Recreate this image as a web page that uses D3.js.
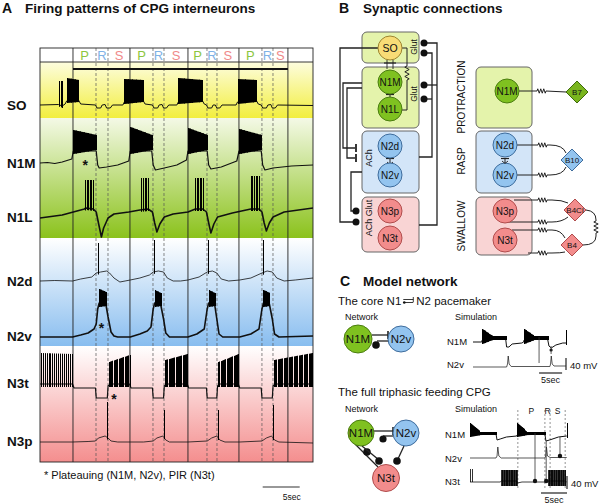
<!DOCTYPE html>
<html><head><meta charset="utf-8">
<script src="https://cdn.jsdelivr.net/npm/d3@7/dist/d3.min.js"></script>
<style>
body{margin:0;background:#fff;}
svg{display:block;}
text{font-family:"Liberation Sans",Arial,Helvetica,sans-serif;fill:#111;}
</style></head>
<body>
<svg id="fig" width="600" height="504" xmlns="http://www.w3.org/2000/svg"></svg>
<script>
// ======================= DATA =======================
const rowLabels = ["SO","N1M","N1L","N2d","N2v","N3t","N3p"];
const phaseLetters = ["P","R","S"];
const cycleBounds = [4.46, 12.16, 20.0, 26.89, 33.51];   // s, solid lines (P onset)
const rStarts = [7.57, 15.27, 22.57, 30.0];              // s, dashed (R onset)
const rEnds = [9.19, 16.76, 23.92, 31.49];               // s, dashed (S onset)
const recordLength = 36.9;                               // s
const scaleBarSec = 5;
const asteriskTimes = [6.1, 8.3, 10.0];                  // N1M, N2v, N3t

// traces: [time (s), potential (relative mV)]
const soTrace = [[0,0],[2.5,0.5],[3.0,-1],[3.4,1],[3.6,4],[5.2,5],[5.5,1],[7.5,0],[7.7,-3],[8.2,-3],[8.4,0],[8.8,0.5],[9.0,-3],[9.5,-3],[9.8,0],[11.2,0],[11.4,3],[13.9,5],[14.2,1],[15.2,0],[15.4,-3],[15.9,-3],[16.1,0],[16.5,0.5],[16.7,-3],[17.1,-3],[17.4,0],[18.5,0],[18.7,3],[21.9,5],[22.2,1],[22.5,0],[22.7,-3],[23.2,-3],[23.4,0],[23.7,0],[23.9,-3],[24.3,-3],[24.6,0],[26.5,0],[26.7,3],[29.2,5],[29.5,1],[29.9,0],[30.1,-3],[30.6,-3],[30.8,0],[31.2,0.5],[31.4,-3],[31.8,-3],[32.1,0],[36.9,-0.5]];
// bursts: [t0, t1, spikes, top0, top1, bottom0, bottom1]
const soBursts = [[2.6,3.0,3,24],[3.6,5.2,16,27,25],[11.4,13.9,24,26,25],[18.7,21.9,28,27,25],[26.7,29.2,22,26,25]];

const n1mTrace = [[0,0],[1,0.5],[2,-0.5],[3,1],[4.3,4],[4.5,12],[7.6,12],[7.8,-2],[8.0,-5],[9,-4],[10.5,-2],[12.0,2],[12.2,12],[15.1,12],[15.3,-2],[15.6,-7],[16.8,-5],[18.5,-2],[19.8,3],[20.0,12],[22.6,12],[22.8,-2],[23.1,-6],[24.5,-4],[26.6,2],[26.9,12],[29.9,12],[30.1,-2],[30.4,-7],[31.5,-5],[34,-3],[36.9,-2]];
const n1mBursts = [[4.5,7.6,30,33,28,9,13],[12.2,15.1,28,36,28,9,13],[20.0,22.6,26,35,28,9,13],[26.9,29.9,30,34,28,9,13]];

const n1lTrace = [[0,0],[1,1],[2,2],[3,3],[4.5,6],[6,9],[6.2,10],[7.2,9],[7.6,6],[7.9,-5],[8.3,-19],[8.6,-10],[9.2,0],[10,4],[12,6],[13.5,8],[14.6,9],[15.2,6],[15.5,-5],[15.8,-14],[16.2,-6],[16.8,1],[18,4],[20,6],[21,9],[22,9],[22.5,6],[22.8,-5],[23.1,-15],[23.5,-6],[24,1],[26,5],[28.5,9],[29.6,9],[30,6],[30.3,-5],[30.6,-13],[31,-5],[31.5,1],[33,6],[36.9,10]];
const n1lBursts = [[6.1,7.1,6,38],[13.7,14.6,5,40],[21.0,22.0,6,40],[28.5,29.6,6,42]];

const n2dTrace = [[0,0],[2,0.5],[4.4,0],[5.5,2],[7,4],[7.6,8],[8.2,9],[9,10],[9.4,8],[10,3],[10.8,-1],[11.5,0],[12.2,1],[13.5,3],[14.8,6],[15.3,9],[16,10],[16.7,9],[17.2,3],[18,0],[19,0],[20,1],[21.5,4],[22.6,9],[23.3,10],[23.9,8],[24.5,2],[25.5,0],[27,1],[28.5,3],[30,8],[30.7,10],[31.4,9],[32,3],[33,0],[34.5,1],[36.9,3]];
const n2dBursts = [[7.9,7.9,1,38],[15.4,15.4,1,41],[22.7,22.7,1,41],[30.1,30.1,1,41]];

const n2vTrace = [[0,0],[4.4,0],[5.5,2],[6.5,4],[7.3,8],[7.6,13],[7.8,28],[8.0,34],[8.9,33],[9.2,20],[9.6,5],[10.0,1],[10.5,0],[12.2,0],[13.5,3],[14.5,6],[15.0,10],[15.3,28],[15.5,34],[16.3,33],[16.7,18],[17.0,4],[17.5,0],[20.0,0],[21.2,3],[22.2,8],[22.6,28],[22.8,34],[23.6,33],[23.9,18],[24.2,3],[24.7,0],[27,0],[28.5,3],[29.6,8],[30,28],[30.2,34],[31.0,33],[31.4,18],[31.7,3],[32.3,0],[36.9,1]];
const n2vBursts = [[8.0,8.9,10,48,45,30,31],[15.5,16.3,9,47,44,30,31],[22.8,23.6,9,47,44,30,31],[30.2,31.0,9,47,44,30,31]];

const n3tTrace = [[0,0],[4.4,0],[4.6,-4],[7.5,-4],[7.6,-14],[9.1,-14],[9.2,-2],[9.5,0],[12.1,0],[12.3,-4],[15.2,-4],[15.3,-14],[16.7,-14],[16.8,-2],[17.1,0],[19.9,0],[20.1,-4],[22.5,-4],[22.6,-14],[23.9,-14],[24.0,-2],[24.3,0],[26.8,0],[27.0,-4],[29.9,-4],[30.0,-14],[31.4,-14],[31.5,-2],[31.8,0],[36.9,0]];
const n3tBursts = [[0.1,4.3,17,31,30,-3,-3],[9.3,12.1,18,22,29,-3,-3],[16.9,19.9,20,24,30,-3,-3],[24.1,26.8,18,22,30,-3,-3],[31.6,36.8,32,24,31,-3,-3]];

const n3pTrace = [[0,0],[4.4,0],[6.5,0.5],[7.5,1],[7.9,4],[8.8,6],[9.2,4],[9.6,1],[10.5,0],[12.2,0],[14,0],[15.3,1],[15.8,4],[16.6,6],[17.0,2],[17.5,0],[20,0],[22.6,1],[23.2,4],[23.9,6],[24.3,2],[25,0],[27,0],[30,1],[30.6,4],[31.3,6],[31.7,2],[32.3,0],[36.9,-1]];
const n3pBursts = [[9.1,9.1,1,40],[16.7,16.7,1,32],[24.1,24.1,1,32],[31.5,31.5,1,37]];

// Panel C simulations
const sim1Labels = ["N1M","N2v"];
const sim1Length = 20.2;
const sim1N1M = [[0,0],[1.9,0],[2.0,2],[7.1,3],[7.3,-5],[7.8,-5],[8.5,-2],[10.6,-1],[11.0,0],[11.1,2],[16.2,3],[16.5,-4],[17.0,-6],[18,-3],[19.5,-1],[20.2,-1]];
const sim1N1MBursts = [[2.0,4.2,14,13,6,-2,2],[4.2,7.1,16,6,6,2,2],[11.1,13.3,14,13,6,-2,2],[13.3,16.2,16,6,6,2,2],[20.2,20.2,1,12]];
const sim1N2v = [[0,0],[7.3,0],[7.5,3],[7.65,11],[7.85,3],[8.3,0.5],[16.7,0.5],[16.85,3],[17.0,11],[17.2,3],[17.6,1],[20.2,1]];

const sim2Labels = ["N1M","N2v","N3t"];
const sim2Length = 18.65;
const sim2Phases = [9.2, 14.4, 15.4, 18.3];
const sim2N1M = [[0,0],[5.0,1],[5.2,-5],[5.8,-4],[7,-2],[9.0,-1],[9.05,0],[14.4,1],[14.6,-6],[15.3,-5],[17,-2],[18.6,-1]];
const sim2N1MBursts = [[0.05,2.0,12,12,3,-2,0],[2.0,5.0,18,3,3,0,0],[9.05,11.0,12,12,3,-2,0],[11.0,14.4,20,3,3,0,0],[18.6,18.6,1,12]];
const sim2N2v = [[0,0],[5.0,0],[5.2,2],[5.35,11],[5.55,2],[6,0],[14.4,0],[14.55,2],[14.7,11],[14.9,2],[15.4,0.5],[18.6,0.5]];
const sim2N3t = [[0,0],[5.8,0],[6.0,1],[9.0,1],[9.1,-1],[10,0],[14.9,0],[15.0,1],[18.3,1],[18.6,0]];
const sim2N3tBursts = [[0,0.3,2,13,13,0,0],[6.0,9.0,26,12,12,-4,-4],[15.0,18.3,28,12,12,-4,-4]];

// ======================= STYLE =======================
const phaseColors = ["#8cc63e","#7fb2e6","#f08a8a"];
const C = {
  greenBox:"#e4f3ab", blueBox:"#d3e5f8", redBox:"#f9d4d4",
  green:"#7fc120", blue:"#93c4ef", red:"#f28c8c", yellow:"#f8dc76",
  greenS:"#4a7d10", blueS:"#3e6c9c", redS:"#b04c4c", yellowS:"#9c8430"
};

const svg = d3.select("#fig");
const defs = svg.append("defs");
function grad(id, c0, c1){
  const g = defs.append("linearGradient").attr("id",id).attr("x1",0).attr("y1",0).attr("x2",0).attr("y2",1);
  g.append("stop").attr("offset",0).attr("stop-color",c0);
  g.append("stop").attr("offset",1).attr("stop-color",c1);
}
grad("gY","#fdfdde","#f2ee3e");
grad("gG","#f4f9e6","#8bc21c");
grad("gB","#ffffff","#88bdef");
grad("gR","#ffffff","#f48e8e");

function valAt(pts, t){
  const i = d3.bisector(d=>d[0]).right(pts, t);
  if(i<=0) return pts[0][1];
  if(i>=pts.length) return pts[pts.length-1][1];
  const a = pts[i-1], b = pts[i];
  const f = (t-a[0])/((b[0]-a[0])||1);
  return a[1]+(b[1]-a[1])*f;
}
function drawTrace(g, x, y, pts, bursts, sw, spw){
  g.append("path").attr("d", d3.line().x(d=>x(d[0])).y(d=>y(d[1]))(pts))
   .attr("fill","none").attr("stroke","#111").attr("stroke-width",sw).attr("stroke-linejoin","round");
  const spikes = [];
  (bursts||[]).forEach(b=>{
    const [t0,t1,n,top0,top1=top0,bot0=null,bot1=bot0] = b;
    for(let i=0;i<n;i++){
      const f = n>1 ? i/(n-1) : 0;
      const t = t0+(t1-t0)*f;
      const top = top0+(top1-top0)*f;
      const bot = bot0==null ? valAt(pts,t)-2 : bot0+(bot1-bot0)*f;
      spikes.push([t,bot,top]);
    }
  });
  const px = d=>Math.round(x(d[0]))+0.5;
  g.selectAll(null).data(spikes).join("line")
   .attr("x1",px).attr("x2",px)
   .attr("y1",d=>y(d[1])).attr("y2",d=>y(d[2]))
   .attr("stroke","#000").attr("stroke-width",spw||1);
}
function txt(g, x, y, s, size, opt={}){
  const t = g.append("text").attr("x",x).attr("y",y).attr("font-size",size).text(s);
  if(opt.bold) t.attr("font-weight","bold");
  if(opt.anchor) t.attr("text-anchor",opt.anchor);
  if(opt.fill) t.style("fill",opt.fill);
  return t;
}
function vtxt(g, x, y, s, size){
  return g.append("text").attr("transform",`translate(${x},${y}) rotate(-90)`)
    .attr("text-anchor","middle").attr("dy","0.35em").attr("font-size",size).text(s);
}

// ======================= PANEL A =======================
const gA = svg.append("g");
txt(gA, 2, 13, "A", 14, {bold:true});
txt(gA, 25, 13, "Firing patterns of CPG interneurons", 13.5, {bold:true});
const A = {left:40, right:313, top:48, head:62, bottom:462};
const xA = d3.scaleLinear().domain([0, recordLength]).range([A.left, A.right]);
const bands = [[62,118,"url(#gY)"],[118,238,"url(#gG)"],[238,346,"url(#gB)"],[346,462,"url(#gR)"]];
gA.selectAll(null).data(bands).join("rect")
  .attr("x",A.left).attr("width",A.right-A.left).attr("y",d=>d[0]).attr("height",d=>d[1]-d[0]).attr("fill",d=>d[2]);

gA.selectAll(null).data(rStarts.concat(rEnds)).join("line")
  .attr("x1",d=>xA(d)).attr("x2",d=>xA(d)).attr("y1",A.top).attr("y2",A.bottom)
  .attr("stroke","#555").attr("stroke-width",0.7).attr("stroke-dasharray","3,2");
gA.selectAll(null).data(cycleBounds).join("line")
  .attr("x1",d=>xA(d)).attr("x2",d=>xA(d)).attr("y1",A.top).attr("y2",A.bottom)
  .attr("stroke","#222").attr("stroke-width",0.9);
gA.append("line").attr("x1",A.left).attr("x2",A.right).attr("y1",A.head).attr("y2",A.head).attr("stroke","#222").attr("stroke-width",0.9);
gA.append("rect").attr("x",A.left).attr("y",A.top).attr("width",A.right-A.left).attr("height",A.bottom-A.top)
  .attr("fill","none").attr("stroke","#222").attr("stroke-width",0.9);
gA.append("line").attr("x1",xA(cycleBounds[0])).attr("x2",xA(cycleBounds[cycleBounds.length-1])).attr("y1",69).attr("y2",69)
  .attr("stroke","#111").attr("stroke-width",2);
rStarts.forEach((rs,i)=>{
  const mids = [(cycleBounds[i]+rs)/2,(rs+rEnds[i])/2,(rEnds[i]+cycleBounds[i+1])/2];
  mids.forEach((m,j)=>txt(gA, xA(m), 60, phaseLetters[j], 13, {anchor:"middle", fill:phaseColors[j]}));
});

const clip = defs.append("clipPath").attr("id","clipA");
clip.append("rect").attr("x",A.left).attr("y",A.head).attr("width",A.right-A.left).attr("height",A.bottom-A.head);
const gT = gA.append("g").attr("clip-path","url(#clipA)");
const traceSpecs = [
  [soTrace, soBursts, 105, 1.0, 110],
  [n1mTrace, n1mBursts, 163, 1.2, 168],
  [n1lTrace, n1lBursts, 218, 1.6, 222],
  [n2dTrace, n2dBursts, 281, 0.8, 286],
  [n2vTrace, n2vBursts, 337, 1.6, 341],
  [n3tTrace, n3tBursts, 384, 1.2, 388],
  [n3pTrace, n3pBursts, 442, 0.8, 446]
];
traceSpecs.forEach((s,i)=>{
  const y = d3.scaleLinear().domain([0,10]).range([s[2], s[2]-10]);
  drawTrace(gT, xA, y, s[0], s[1], s[3], 1);
  txt(gA, 7, s[4], rowLabels[i], 13.5, {bold:true});
});
[[0,170],[1,333],[2,404]].forEach(([k,yy])=>txt(gA, xA(asteriskTimes[k]), yy, "*", 14, {anchor:"middle", bold:true}));
txt(gA, 44, 479, "* Plateauing (N1M, N2v), PIR (N3t)", 11);
const sbEnd = 35.1;
gA.append("line").attr("x1",xA(sbEnd-scaleBarSec)).attr("x2",xA(sbEnd)).attr("y1",487).attr("y2",487).attr("stroke","#333").attr("stroke-width",1.2);
txt(gA, xA(sbEnd)+1, 500, "5sec", 8.5, {anchor:"end"});

// ======================= PANEL B =======================
const gB = svg.append("g");
txt(gB, 339, 13, "B", 14, {bold:true});
txt(gB, 363, 13, "Synaptic connections", 13.5, {bold:true});

function box(g,x,y,w,h,fill){ g.append("rect").attr("x",x).attr("y",y).attr("width",w).attr("height",h).attr("rx",5).attr("fill",fill).attr("stroke","#666").attr("stroke-width",1); }
function node(g,x,y,r,fill,stroke,label,fs){
  g.append("circle").attr("cx",x).attr("cy",y).attr("r",r).attr("fill",fill).attr("stroke",stroke).attr("stroke-width",1);
  g.append("text").attr("x",x).attr("y",y).attr("dy","0.36em").attr("text-anchor","middle").attr("font-size",fs).text(label);
}
function dot(g,x,y,r){ g.append("circle").attr("cx",x).attr("cy",y).attr("r",r||3.5).attr("fill","#111"); }
function path(g,d,sw,col){ return g.append("path").attr("d",d).attr("fill","none").attr("stroke",col||"#222").attr("stroke-width",sw||1.3); }
function zigH(x0,y,len,amp,k){ let s=`L${x0},${y}`; const st=len/(2*k); for(let i=0;i<2*k;i++){ s+=` L${x0+st*(i+0.5)},${y+(i%2?amp:-amp)}`;} return s+` L${x0+len},${y}`; }
function zigV(x,y0,len,amp,k){ let s=`L${x},${y0}`; const st=len/(2*k); for(let i=0;i<2*k;i++){ s+=` L${x+(i%2?amp:-amp)},${y0+st*(i+0.5)}`;} return s+` L${x},${y0+len}`; }
function diamond(g,x,y,h,fill,stroke,label){
  g.append("path").attr("d",`M${x},${y-h} L${x+h},${y} L${x},${y+h} L${x-h},${y} Z`).attr("fill",fill).attr("stroke",stroke).attr("stroke-width",1);
  g.append("text").attr("x",x).attr("y",y).attr("dy","0.36em").attr("text-anchor","middle").attr("font-size",8).text(label);
}

box(gB,362,32,57,31,C.greenBox);
box(gB,362,67,57,61,C.greenBox);
box(gB,362,131,57,62,C.blueBox);
box(gB,362,197,57,55,C.redBox);
path(gB,"M378,48 H340 V222 H353");
path(gB,"M362,83 H343 V148 H355");
path(gB,"M362,88 H347 V158 H355");
path(gB,"M362,172 H351 V211 H353");
path(gB,"M356,144 V152",1.8); path(gB,"M356,154 V162",1.8);
dot(gB,356,222); dot(gB,356,211);
path(gB,"M419,225 H437 V43 H424"); path(gB,"M437,85 H424");
path(gB,"M419,157 H432 V53 H424"); path(gB,"M432,99 H424");
dot(gB,424,43); dot(gB,424,53); dot(gB,424,85); dot(gB,424,99);
path(gB,"M402,48 H407 "+zigV(407,66,14,2.2,3)+" V110 H402",1);
path(gB,"M387,60 V69 M393,60 V69",0.9); path(gB,"M384,63 H396",1.2);
path(gB,"M390,94 V98",1); path(gB,"M386,94.5 H394",1.2);
path(gB,"M390,158 V164",1); path(gB,"M386,158.5 H394",1.2); path(gB,"M387,162 L390,164.5 L393,162",0.9);
node(gB,390,48,12,C.yellow,C.yellowS,"SO",10.5);
node(gB,390,82,12,C.green,C.greenS,"N1M",10);
node(gB,390,109,12,C.green,C.greenS,"N1L",10);
node(gB,390,146,12,C.blue,C.blueS,"N2d",10);
node(gB,390,175,12,C.blue,C.blueS,"N2v",10);
node(gB,390,211,12,C.red,C.redS,"N3p",10);
node(gB,390,238,12,C.red,C.redS,"N3t",10);
vtxt(gB,414,47,"Glut",8.5);
vtxt(gB,414,94,"Glut",8.5);
vtxt(gB,369,158,"ACh",9);
vtxt(gB,369,218,"ACh Glut",9);

box(gB,476,67,56,61,C.greenBox);
box(gB,476,131,56,62,C.blueBox);
box(gB,476,197,56,58,C.redBox);
vtxt(gB,461,97,"PROTRACTION",10);
vtxt(gB,461,161,"RASP",10);
vtxt(gB,461,226,"SWALLOW",10);
path(gB,"M519,91 "+zigH(537,91,9,2.2,3)+" L566,92",1);
path(gB,"M517,145 "+zigH(538,145,9,2.2,3)+" L550,145 Q563,145 566,153",1);
path(gB,"M517,175 "+zigH(538,175,9,2.2,3)+" L550,175 Q563,175 566,167",1);
path(gB,"M514,200 "+zigH(538,200,9,2.2,3)+" L552,200 Q562,200 568,203",1);
path(gB,"M508,222 "+zigH(538,222,9,2.2,3)+" L552,222 Q562,222 568,217",1);
path(gB,"M512,230 "+zigH(538,230,9,2.2,3)+" L552,230 Q561,230 565,238",1);
path(gB,"M528,253 "+zigH(538,253,9,2.2,3)+" L552,253 Q561,253 565,252",1);
path(gB,"M586,210 Q596,211 596,220 "+zigV(596,221,12,2.2,3)+" L596,236 Q596,245 583,245",1);
node(gB,507,91,12,C.green,C.greenS,"N1M",10);
node(gB,505,145,12,C.blue,C.blueS,"N2d",10);
node(gB,505,175,12,C.blue,C.blueS,"N2v",10);
path(gB,"M505,158 V163",1); path(gB,"M501,158.5 H509",1.2); path(gB,"M502,161 L505,163.5 L508,161",0.9);
node(gB,505,211,12,C.red,C.redS,"N3p",10);
node(gB,505,240,12,C.red,C.redS,"N3t",10);
diamond(gB,577,92,11,"#7ab51e","#3e6a0c","B7");
diamond(gB,572,160,11,C.blue,C.blueS,"B10");
diamond(gB,575,210,11,C.red,C.redS,"B4Cl");
diamond(gB,572,245,11,C.red,C.redS,"B4");

// ======================= PANEL C =======================
const gC = svg.append("g");
txt(gC, 340, 286, "C", 14, {bold:true});
txt(gC, 363, 286, "Model network", 13.5, {bold:true});
const t1 = txt(gC, 338, 305, "The core N1", 11.5);
const w1 = t1.node().getComputedTextLength();
const sx = 338 + w1 + 2;
path(gC,`M${sx},299.5 H${sx+10} M${sx+10},297 V302`,0.9);
path(gC,`M${sx},302.5 H${sx+10}`,0.9); dot(gC,sx+1,302.5,1.3);
txt(gC, sx + 13, 305, "N2 pacemaker", 11.5);
txt(gC, 345, 320, "Network", 9);
txt(gC, 455, 320, "Simulation", 9);

path(gC,"M372,335 H388",1.3); path(gC,"M388,331 V339",1.6);
path(gC,"M389,341 H377",1.3); dot(gC,376,345,3.8);
node(gC,358,339,14,C.green,C.greenS,"N1M",11.5);
node(gC,401,339,13,C.blue,C.blueS,"N2v",11.5);

const xS1 = d3.scaleLinear().domain([0, sim1Length]).range([473, 566]);
const yS1a = d3.scaleLinear().domain([0,10]).range([342,332]);
const yS1b = d3.scaleLinear().domain([0,10]).range([367,357]);
drawTrace(gC, xS1, yS1a, sim1N1M, sim1N1MBursts, 1, 1);
drawTrace(gC, xS1, yS1b, sim1N2v, [], 0.7);
txt(gC, 447, 345, sim1Labels[0], 9.5);
txt(gC, 447, 368, sim1Labels[1], 9.5);
gC.append("line").attr("x1",xS1(14.35)).attr("x2",xS1(14.35)).attr("y1",337).attr("y2",363).attr("stroke","#333").attr("stroke-width",0.8);
dot(gC, xS1(16.96), 350, 1.6);
gC.append("line").attr("x1",xS1(16.96)).attr("x2",xS1(16.96)).attr("y1",346).attr("y2",354).attr("stroke","#333").attr("stroke-width",0.8);
gC.append("line").attr("x1",xS1(sim1Length)).attr("x2",xS1(sim1Length)).attr("y1",358).attr("y2",370).attr("stroke","#222").attr("stroke-width",1.2);
txt(gC, 570, 369, "40 mV", 9.5);
gC.append("line").attr("x1",xS1(sim1Length-0.85-scaleBarSec)).attr("x2",xS1(sim1Length-0.85)).attr("y1",373).attr("y2",373).attr("stroke","#222").attr("stroke-width",1.2);
txt(gC, xS1(sim1Length-0.85-scaleBarSec/2), 383, "5sec", 9, {anchor:"middle"});

txt(gC, 338, 396, "The full triphasic feeding CPG", 11.5);
txt(gC, 345, 412, "Network", 9);
txt(gC, 455, 412, "Simulation", 9);
path(gC,"M373,431 H393",1.3); path(gC,"M393,427 V435",1.6);
path(gC,"M393,436 H383",1.3); dot(gC,383,439,3.6);
path(gC,"M355,444 L378,467",1.3); dot(gC,367,452,3.8);
path(gC,"M362,446 L379,460",1.3); dot(gC,379,461,3.8);
path(gC,"M404,446 L397,461",1.3); dot(gC,397,461,3.8);
node(gC,361,433,13,C.green,C.greenS,"N1M",11.5);
node(gC,406,433,13,C.blue,C.blueS,"N2v",11.5);
node(gC,386,478,13.5,C.red,C.redS,"N3t",11.5);

const xS2 = d3.scaleLinear().domain([0, sim2Length]).range([470, 567]);
gC.selectAll(null).data(sim2Phases).join("line")
  .attr("x1",d=>xS2(d)).attr("x2",d=>xS2(d)).attr("y1",410).attr("y2",490)
  .attr("stroke","#666").attr("stroke-width",0.7).attr("stroke-dasharray","2,2");
const phaseMid = [(sim2Phases[0]+sim2Phases[1])/2,(sim2Phases[1]+sim2Phases[2])/2,(sim2Phases[2]+sim2Phases[3])/2];
phaseMid.forEach((m,i)=>txt(gC, xS2(m), 414, phaseLetters[i], 8.5, {anchor:"middle"}));
const yS2 = [435,458,482].map(b=>d3.scaleLinear().domain([0,10]).range([b,b-10]));
drawTrace(gC, xS2, yS2[0], sim2N1M, sim2N1MBursts, 1, 1);
drawTrace(gC, xS2, yS2[1], sim2N2v, [], 0.7);
drawTrace(gC, xS2, yS2[2], sim2N3t, sim2N3tBursts, 0.8, 0.8);
sim2Labels.forEach((l,i)=>txt(gC, 445, [438,462,485][i], l, 9.5));
[[12.5,433,481],[14.65,441,481],[17.3,437,456]].forEach(([t,y0,y1])=>{
  gC.append("line").attr("x1",xS2(t)).attr("x2",xS2(t)).attr("y1",y0).attr("y2",y1).attr("stroke","#333").attr("stroke-width",0.8);
  dot(gC, xS2(t), y1, 2.2);
});
gC.append("line").attr("x1",xS2(sim2Length)).attr("x2",xS2(sim2Length)).attr("y1",476).attr("y2",489).attr("stroke","#222").attr("stroke-width",1.2);
txt(gC, 571, 487, "40 mV", 9.5);
gC.append("line").attr("x1",xS2(sim2Length-scaleBarSec)).attr("x2",xS2(sim2Length)).attr("y1",493).attr("y2",493).attr("stroke","#222").attr("stroke-width",1.2);
txt(gC, xS2(sim2Length-scaleBarSec/2), 503, "5sec", 9, {anchor:"middle"});
</script>
</body></html>
